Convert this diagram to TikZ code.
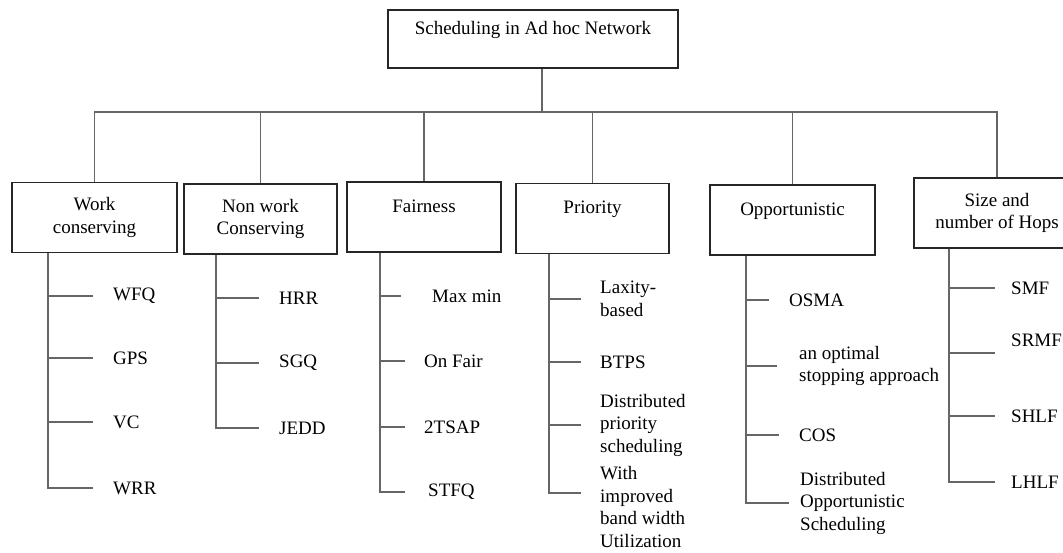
\documentclass[tikz,border=0pt]{standalone}
\usepackage{fontspec}
\setmainfont{Liberation Serif}
\begin{document}
\begin{tikzpicture}[x=1pt, y=-1pt,
    every node/.style={font=\fontsize{19}{22.5}\selectfont},
    catbox/.style={draw=black!85, line width=1.5pt, align=center, minimum height=70pt},
    leaf/.style={anchor=west, align=left, inner sep=0pt},
    link/.style={draw=black!60, line width=1.4pt}]
  \useasboundingbox (0,0) rectangle (1063,552);

  % root and categories
  \node[catbox, minimum width=290pt, minimum height=58pt] (root) at (533,39) {Scheduling in Ad hoc Network\\\phantom{x}};
  \node[catbox, minimum width=165pt] (work) at (94.5,217.5) {Work\\conserving};
  \node[catbox, minimum width=153pt] (nonwork) at (260.5,219) {Non work\\Conserving};
  \node[catbox, minimum width=154pt] (fair) at (424,217) {Fairness\\\phantom{x}};
  \node[catbox, minimum width=153pt] (prio) at (592.5,218.5) {Priority\\\phantom{x}};
  \node[catbox, minimum width=165pt] (opp) at (792.5,220) {Opportunistic\\\phantom{x}};
  \node[catbox, minimum width=166pt] (size) at (997,213) {Size and\\number of Hops};

  % bus
  \coordinate (hub) at (542,112);
  \draw[link] ([xshift=9pt]root.south) -- (hub);
  \draw[link] (work.north) |- (hub) -| (size.north);
  \foreach \n in {nonwork,fair,prio,opp}
    \draw[link] (\n.north) -- (\n.north |- hub);

  % work conserving
  \node[leaf] (wfq) at (113,296) {WFQ};
  \node[leaf] (gps) at (113,358) {GPS};
  \node[leaf] (vc) at (113,422) {VC};
  \node[leaf] (wrr) at (113,488) {WRR};
  \coordinate (ws) at ([xshift=-46.5pt]work.south);
  \draw[link] (ws) |- ([xshift=-20pt]wrr.west);
  \foreach \n in {wfq,gps,vc}
    \draw[link] (ws |- \n.west) -- ([xshift=-20pt]\n.west);

  % non work conserving
  \node[leaf] (hrr) at (279,298) {HRR};
  \node[leaf] (sgq) at (279,363) {SGQ};
  \node[leaf] (jedd) at (279,428) {JEDD};
  \coordinate (ns) at ([xshift=-44.5pt]nonwork.south);
  \draw[link] (ns) |- ([xshift=-20pt]jedd.west);
  \foreach \n in {hrr,sgq}
    \draw[link] (ns |- \n.west) -- ([xshift=-20pt]\n.west);

  % fairness
  \node[leaf] (maxmin) at (432,296) {Max min};
  \node[leaf] (onfair) at (424,361) {On Fair};
  \node[leaf] (tsap) at (424,427) {2TSAP};
  \node[leaf] (stfq) at (428,492) {STFQ};
  \coordinate (fs) at ([xshift=-44pt]fair.south);
  \draw[link] (fs) |- ([xshift=-23pt]stfq.west);
  \draw[link] (fs |- maxmin.west) -- ([xshift=-31pt]maxmin.west);
  \foreach \n in {onfair,tsap}
    \draw[link] (fs |- \n.west) -- ([xshift=-19pt]\n.west);

  % priority
  \node[leaf] (laxity) at (600,299) {Laxity-\\based};
  \node[leaf] (btps) at (600,362) {BTPS};
  \node[leaf] (dps) at (600,425) {Distributed\\priority\\scheduling};
  \node[leaf] (wibu) at (600,507) {With\\improved\\band width\\Utilization};
  \coordinate (ps) at ([xshift=-43.5pt]prio.south);
  \draw[link] (ps) |- ([xshift=-19pt, yshift=14pt]wibu.west);
  \foreach \n in {laxity,btps,dps}
    \draw[link] (ps |- \n.west) -- ([xshift=-19pt]\n.west);

  % opportunistic
  \node[leaf] (osma) at (789,300) {OSMA};
  \node[leaf] (osa) at (799,366) {an optimal\\stopping approach};
  \node[leaf] (cos) at (799,435) {COS};
  \node[leaf] (dos) at (800,503) {Distributed\\Opportunistic\\Scheduling};
  \coordinate (os) at ([xshift=-46.5pt]opp.south);
  \draw[link] (os) |- ([xshift=-11pt]dos.west);
  \draw[link] (os |- osma.west) -- ([xshift=-20pt]osma.west);
  \draw[link] (os |- osa.west) -- ([xshift=-22pt]osa.west);
  \draw[link] (os |- cos.west) -- ([xshift=-20pt]cos.west);

  % size and number of hops
  \node[leaf] (smf) at (1011,288) {SMF};
  \node[leaf] (srmf) at (1011,340) {SRMF};
  \node[leaf] (shlf) at (1011,416) {SHLF};
  \node[leaf] (lhlf) at (1011,482) {LHLF};
  \coordinate (ss) at ([xshift=-48pt]size.south);
  \draw[link] (ss) |- ([xshift=-16pt]lhlf.west);
  \draw[link] (ss |- srmf.west) ++(0,13) -- ++(46,0);
  \foreach \n in {smf,shlf}
    \draw[link] (ss |- \n.west) -- ([xshift=-16pt]\n.west);
\end{tikzpicture}
\end{document}
